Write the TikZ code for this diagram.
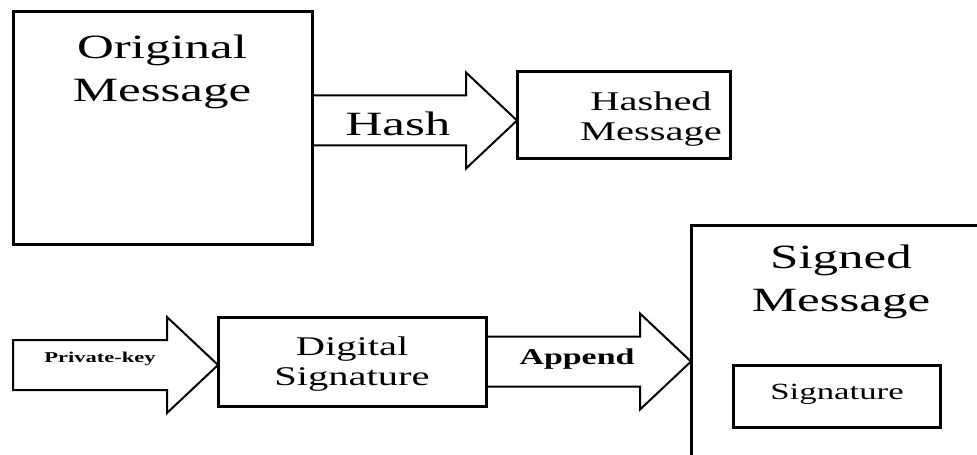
\documentclass[tikz,border=0pt]{standalone}
\usepackage{fontspec}
\setmainfont{Liberation Serif}
\usetikzlibrary{calc}

% text is set wide (stretched sideways)
\newcommand{\wide}[1]{\scalebox{1.5}[1]{#1}}
% hollow block arrow: tail x from #1, tip at #2
\newcommand{\fatarrow}[2]{%
  \draw[fatline] let \p1=(#1), \p2=(#2) in
    (\x1,\y2+12.5pt) -- (\x2-25.5pt,\y2+12.5pt) -- (\x2-25.5pt,\y2+24pt)
    -- (\x2,\y2) -- (\x2-25.5pt,\y2-24pt) -- (\x2-25.5pt,\y2-12.5pt)
    -- (\x1,\y2-12.5pt) -- cycle;}

\begin{document}
\begin{tikzpicture}[x=0.5pt,y=-0.5pt,inner sep=0pt,outer sep=0pt,
msgbox/.style={draw,rectangle,line width=1.5pt,anchor=north west},
fatline/.style={line width=1pt,line join=miter},
bigtxt/.style={align=center,font=\fontsize{17}{21.5}\selectfont},
midtxt/.style={align=center,font=\fontsize{13.5}{15.3}\selectfont}]
\useasboundingbox (0,0) rectangle (977,454);
\fill[white] (0,0) rectangle (977,454);
\clip (0,0) rectangle (977,454);

% boxes
\node[msgbox,minimum width=149.5pt,minimum height=116pt] (orig) at (13,12) {};
\node[msgbox,minimum width=106.5pt,minimum height=43.5pt] (hashed) at (517,72) {};
\node[msgbox,minimum width=134pt,minimum height=44.5pt] (dig) at (218,317) {};
\node[msgbox,minimum width=160pt,minimum height=130pt] (signed) at (691,225) {};
\node[msgbox,minimum width=103.5pt,minimum height=31pt] (sigbox) at (733,365) {};

% box texts
\node[bigtxt] (origtxt) at (162,72) {\wide{Original}\\\wide{Message}};
\node[midtxt] (hashedtxt) at (651,119) {\wide{Hashed}\\\wide{Message}};
\node[midtxt] (digtxt) at (352,364) {\wide{Digital}\\\wide{Signature}};
\node[bigtxt] (signedtxt) at (841,282) {\wide{Signed}\\\wide{Message}};
\node[anchor=base,font=\fontsize{11.6}{14}\selectfont] (sigtxt) at (837,399) {\wide{Signature}};

% block arrows
\coordinate (keytail) at (13,365);
\fatarrow{orig.east}{$(hashed.west)+(0,5)$}
\fatarrow{keytail}{dig.west |- keytail}
\fatarrow{dig.east}{dig.east -| signed.west}

% arrow labels
\node[anchor=base,font=\fontsize{17}{20}\selectfont] (hashlbl) at (398,136) {\wide{Hash}};
\node[anchor=base,font=\fontsize{7.5}{9}\selectfont\bfseries] (keylbl) at (100,362) {\wide{Private-key}};
\node[anchor=base,font=\fontsize{11.3}{13}\selectfont\bfseries] (applbl) at (577,364) {\wide{Append}};
\end{tikzpicture}
\end{document}
